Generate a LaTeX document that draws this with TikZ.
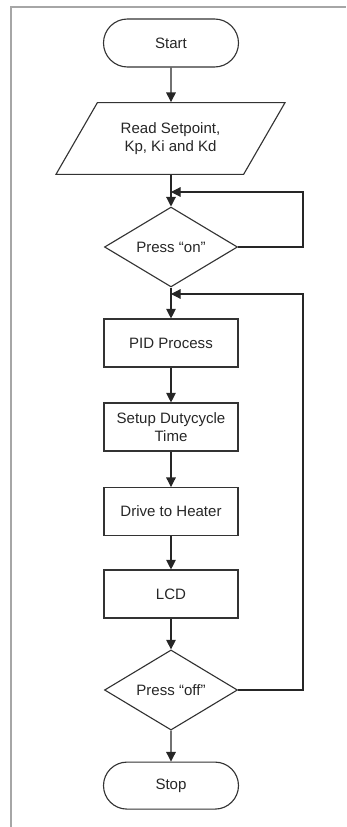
\documentclass[tikz,border=0pt]{standalone}
\usepackage{fontspec}
\setmainfont{Liberation Sans}
\usetikzlibrary{positioning,arrows.meta,shapes.geometric,shapes.misc}

\begin{document}
\begin{tikzpicture}[
  font=\fontsize{10.7}{12.6}\selectfont,
  term/.style={rounded rectangle,draw=black!80,line width=0.8pt,text=black!85,
    minimum width=3.375cm,minimum height=1.2cm,inner sep=0pt},
  proc/.style={rectangle,draw=black!80,line width=0.8pt,text=black!85,
    minimum width=3.35cm,minimum height=1.2cm,align=center,inner sep=0pt},
  io/.style={trapezium,trapezium left angle=60,trapezium right angle=120,
    trapezium stretches body=true,draw=black!80,line width=0.8pt,text=black!85,
    minimum width=5.725cm,inner xsep=0pt,inner ysep=14.2pt,align=center},
  decide/.style={diamond,draw=black!80,line width=0.8pt,text=black!85,
    minimum width=3.325cm,minimum height=1.8cm,inner sep=0pt},
  arr/.style={-{Triangle[length=0.24cm,width=0.24cm]},black!85,line width=0.8pt}
]
\useasboundingbox (-4.275,0) rectangle (4.375,-20.675);
% page frame
\draw[gray!70,line width=1.2pt] (-4.0,-20.675) -- (-4.0,-0.175) -- (4.375,-0.175);

\node[term] (start) at (0,-1.075) {Start};
\node[io] (read) at (-0.0125,-3.4625) {Read Setpoint,\\Kp, Ki and Kd};
\node[decide] (onsw) at (0,-6.175) {Press “on”};
\node[proc] (pid) at (0,-8.575) {PID Process};
\node[proc] (setup) at (0,-10.675) {Setup Dutycycle\\Time};
\node[proc] (drive) at (0,-12.79) {Drive to Heater};
\node[proc] (lcd) at (0,-14.85) {LCD};
\node[decide,minimum height=1.75cm] (offsw) at (0,-17.25) {Press “off”};
\node[term,minimum height=1.175cm] (stop) at (0,-19.64) {Stop};

% loop joints
\coordinate (j1) at (0,-4.8);
\coordinate (r1) at (3.3,-4.8);
\coordinate (j2) at (0,-7.35);
\coordinate (r2) at (3.3,-7.35);

\draw[arr] (start) -- (start |- read.north);
\draw[arr] (read.south -| onsw) -- (onsw);
\draw[arr] (onsw.east) -| (r1) -- (j1);
\draw[arr] (onsw) -- (pid);
\draw[arr] (pid) -- (setup);
\draw[arr] (setup) -- (drive);
\draw[arr] (drive) -- (lcd);
\draw[arr] (lcd) -- (offsw);
\draw[arr] (offsw.east) -| (r2) -- (j2);
\draw[arr] (offsw) -- (stop);
\end{tikzpicture}
\end{document}
